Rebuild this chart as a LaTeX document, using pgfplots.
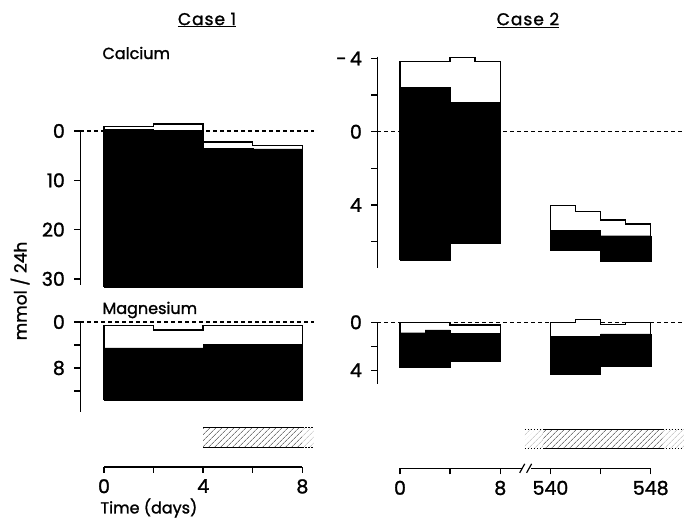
\documentclass[border=0pt]{standalone}
\usepackage{fontspec}
\setmainfont{Poppins}[BoldFont=Poppins, BoldFeatures={FakeBold=1.4}]
\usepackage{pgfplots}
\pgfplotsset{compat=1.18}
\usetikzlibrary{patterns.meta}

% shared looks
\pgfplotsset{
  panel/.style={scale only axis, clip=false, y dir=reverse,
    axis x line=none, axis y line=left,
    axis line style={-, line width=1.6pt},
    tick align=outside, major tick length=6pt,
    tick style={black, line width=1.4pt},
    yticklabel style={font=\fontsize{19}{21}\selectfont\bfseries, xshift=-6pt},
    /pgf/number format/assume math mode=true},
  timeax/.style={scale only axis, clip=false, height=40pt,
    ymin=0, ymax=4, axis y line=none, axis x line=bottom,
    axis line style={-, line width=1.6pt},
    tick align=outside, major tick length=6pt,
    tick style={black, line width=1.4pt},
    xticklabel style={font=\fontsize{19}{21}\selectfont\bfseries, yshift=-3pt},
    /pgf/number format/assume math mode=true},
  zero/.style={black, line width=1.1pt, dash pattern=on 4pt off 3pt},
  outl/.style={draw=black, fill=white, line width=1.4pt, line join=miter},
  blk/.style={draw=black, fill=black, line width=0.3pt},
  hatch/.style={draw=none, pattern={Lines[angle=45, distance=4pt, line width=0.5pt]}, pattern color=black!80},
  hatchlt/.style={draw=none, pattern={Lines[angle=45, distance=4pt, line width=0.5pt]}, pattern color=black!30},
  edge/.style={black, line width=1.4pt},
  dotedge/.style={black, line width=1.4pt, dash pattern=on 1.5pt off 1.5pt},
}

\begin{document}
\begin{tikzpicture}
\path[use as bounding box] (0pt,0pt) rectangle (684pt,519pt);

% ---------- Case 1, calcium ----------
\begin{axis}[panel, at={(80.4pt,388pt)}, anchor=north west,
  width=234.4pt, height=153.8pt,
  xmin=-0.95, xmax=8.5, ymin=0, ymax=31.2,
  ytick={0,10,20,30}, yticklabels={0,10,20,30}]
\addplot[zero] coordinates {(-0.95,0) (8.45,0)};
\addplot[outl] coordinates {(0,31.6) (0,-0.9) (2,-0.9) (2,-1.4) (4,-1.4) (4,2.2) (6,2.2) (6,3.0) (8,3.0) (8,31.6) (0,31.6)};
\addplot[blk] coordinates {(0,31.6) (0,-0.35) (2,-0.35) (2,-0.2) (4,-0.2) (4,3.5) (6,3.5) (6,3.65) (8,3.65) (8,31.6) (0,31.6)};
\end{axis}

% ---------- Case 1, magnesium ----------
\begin{axis}[panel, at={(80.4pt,197pt)}, anchor=north west,
  width=234.4pt, height=89.7pt,
  xmin=-0.95, xmax=8.5, ymin=0, ymax=15.6,
  ytick={0,4,8,12}, yticklabels={0,,8,}]
\addplot[zero] coordinates {(-0.95,0) (8.45,0)};
\addplot[outl] coordinates {(0,13.6) (0,0.64) (2,0.64) (2,1.4) (4,1.4) (4,0.64) (8,0.64) (8,13.6) (0,13.6)};
\addplot[blk] coordinates {(0,13.6) (0,4.5) (4,4.5) (4,3.9) (8,3.9) (8,13.6) (0,13.6)};
\end{axis}

% ---------- Case 2, calcium (x: 0-8 = days 0-8, 12-20 = days 540-548) ----------
\begin{axis}[panel, at={(377.4pt,462.3pt)}, anchor=north west,
  width=307.1pt, height=211.4pt,
  xmin=-1.8, xmax=22.7, ymin=-4.1, ymax=7.45,
  ytick={-4,-2,0,2,4,6}, yticklabels={-\,4,,0,,4,}]
\addplot[zero] coordinates {(-1.8,0) (22.7,0)};
\addplot[outl] coordinates {(0,7.0) (0,-3.83) (4,-3.83) (4,-4.06) (6,-4.06) (6,-3.83) (8,-3.83) (8,6.06) (4,6.06) (4,7.0) (0,7.0)};
\addplot[blk] coordinates {(0,7.0) (0,-2.42) (4,-2.42) (4,-1.6) (8,-1.6) (8,6.06) (4,6.06) (4,7.0) (0,7.0)};
\addplot[outl] coordinates {(12,6.46) (12,4.04) (14,4.04) (14,4.37) (16,4.37) (16,4.82) (18,4.82) (18,5.04) (20,5.04) (20,7.05) (16,7.05) (16,6.46) (12,6.46)};
\addplot[blk] coordinates {(12,6.46) (12,5.37) (16,5.37) (16,5.68) (20,5.68) (20,7.05) (16,7.05) (16,6.46) (12,6.46)};
\end{axis}

% ---------- Case 2, magnesium ----------
\begin{axis}[panel, at={(377.4pt,196.7pt)}, anchor=north west,
  width=307.1pt, height=62pt,
  xmin=-1.8, xmax=22.7, ymin=0, ymax=5.17,
  ytick={0,2,4}, yticklabels={0,,4}]
\addplot[zero] coordinates {(-1.8,0) (22.7,0)};
\addplot[outl] coordinates {(0,3.78) (0,0) (4,0) (4,0.22) (8,0.22) (8,3.28) (4,3.28) (4,3.78) (0,3.78)};
\addplot[blk] coordinates {(0,3.78) (0,0.87) (2,0.87) (2,0.64) (4,0.64) (4,0.92) (8,0.92) (8,3.28) (4,3.28) (4,3.78) (0,3.78)};
\addplot[outl] coordinates {(12,4.33) (12,0) (14,0) (14,-0.25) (16,-0.25) (16,0.17) (18,0.17) (18,0) (20,0) (20,3.64) (16,3.64) (16,4.33) (12,4.33)};
\addplot[blk] coordinates {(12,4.33) (12,1.19) (16,1.19) (16,0.97) (20,0.97) (20,3.64) (16,3.64) (16,4.33) (12,4.33)};
\end{axis}

% ---------- Case 1, time axis and treatment bar ----------
\begin{axis}[timeax, at={(104pt,52.3pt)}, anchor=south west,
  width=198.4pt, xmin=0, xmax=8,
  xtick={0,2,4,6,8}, xticklabels={0,,4,,8}]
\addplot[hatch] coordinates {(4,1.9) (8,1.9) (8,3.94) (4,3.94)} -- cycle;
\addplot[hatchlt] coordinates {(8,1.9) (8.45,1.9) (8.45,3.94) (8,3.94)} -- cycle;
\addplot[edge] coordinates {(4,3.94) (8,3.94)};
\addplot[edge] coordinates {(4,1.9) (8,1.9)};
\addplot[dotedge] coordinates {(8,3.94) (8.45,3.94)};
\addplot[dotedge] coordinates {(8,1.9) (8.45,1.9)};
\end{axis}

% ---------- Case 2, broken time axis and treatment bar ----------
\begin{axis}[timeax, at={(400pt,50.7pt)}, anchor=south west,
  width=250.7pt, xmin=0, xmax=20,
  axis line style={draw=none},
  xtick={0,4,8,12,16,20}, xticklabels={0,,8,540,,548}]
\addplot[edge, line width=1.6pt] coordinates {(0,0) (9.75,0)};
\addplot[edge, line width=1.6pt] coordinates {(10.45,0) (20,0)};
\addplot[edge, line width=1.2pt] coordinates {(9.55,-0.45) (9.95,0.45)};
\addplot[edge, line width=1.2pt] coordinates {(10.1,-0.45) (10.5,0.45)};
\addplot[hatchlt] coordinates {(9.97,2.0) (11.4,2.0) (11.4,3.9) (9.97,3.9)} -- cycle;
\addplot[hatch] coordinates {(11.4,2.0) (20.98,2.0) (20.98,3.9) (11.4,3.9)} -- cycle;
\addplot[hatchlt] coordinates {(20.98,2.0) (22.66,2.0) (22.66,3.9) (20.98,3.9)} -- cycle;
\addplot[edge] coordinates {(11.4,3.9) (20.98,3.9)};
\addplot[edge] coordinates {(11.4,2.0) (20.98,2.0)};
\addplot[dotedge] coordinates {(9.97,3.9) (11.4,3.9)};
\addplot[dotedge] coordinates {(9.97,2.0) (11.4,2.0)};
\addplot[dotedge] coordinates {(20.98,3.9) (22.66,3.9)};
\addplot[dotedge] coordinates {(20.98,2.0) (22.66,2.0)};
\end{axis}

% ---------- texts ----------
\node[font=\fontsize{17}{19}\selectfont\bfseries] at (207pt,499pt) {\addfontfeature{LetterSpace=6}\underline{Case 1}};
\node[font=\fontsize{17}{19}\selectfont\bfseries] at (528pt,499pt) {\addfontfeature{LetterSpace=6}\underline{Case 2}};
\node[font=\fontsize{16}{18}\selectfont\bfseries, anchor=west] at (99pt,466pt) {Calcium};
\node[font=\fontsize{16}{18}\selectfont\bfseries, anchor=west] at (99pt,209pt) {Magnesium};
\node[font=\fontsize{17}{19}\selectfont\bfseries, rotate=90] at (20pt,228pt) {mmol / 24h};
\node[font=\fontsize{16}{18}\selectfont\bfseries, anchor=west] at (97pt,11pt) {Time (days)};
\end{tikzpicture}
\end{document}
